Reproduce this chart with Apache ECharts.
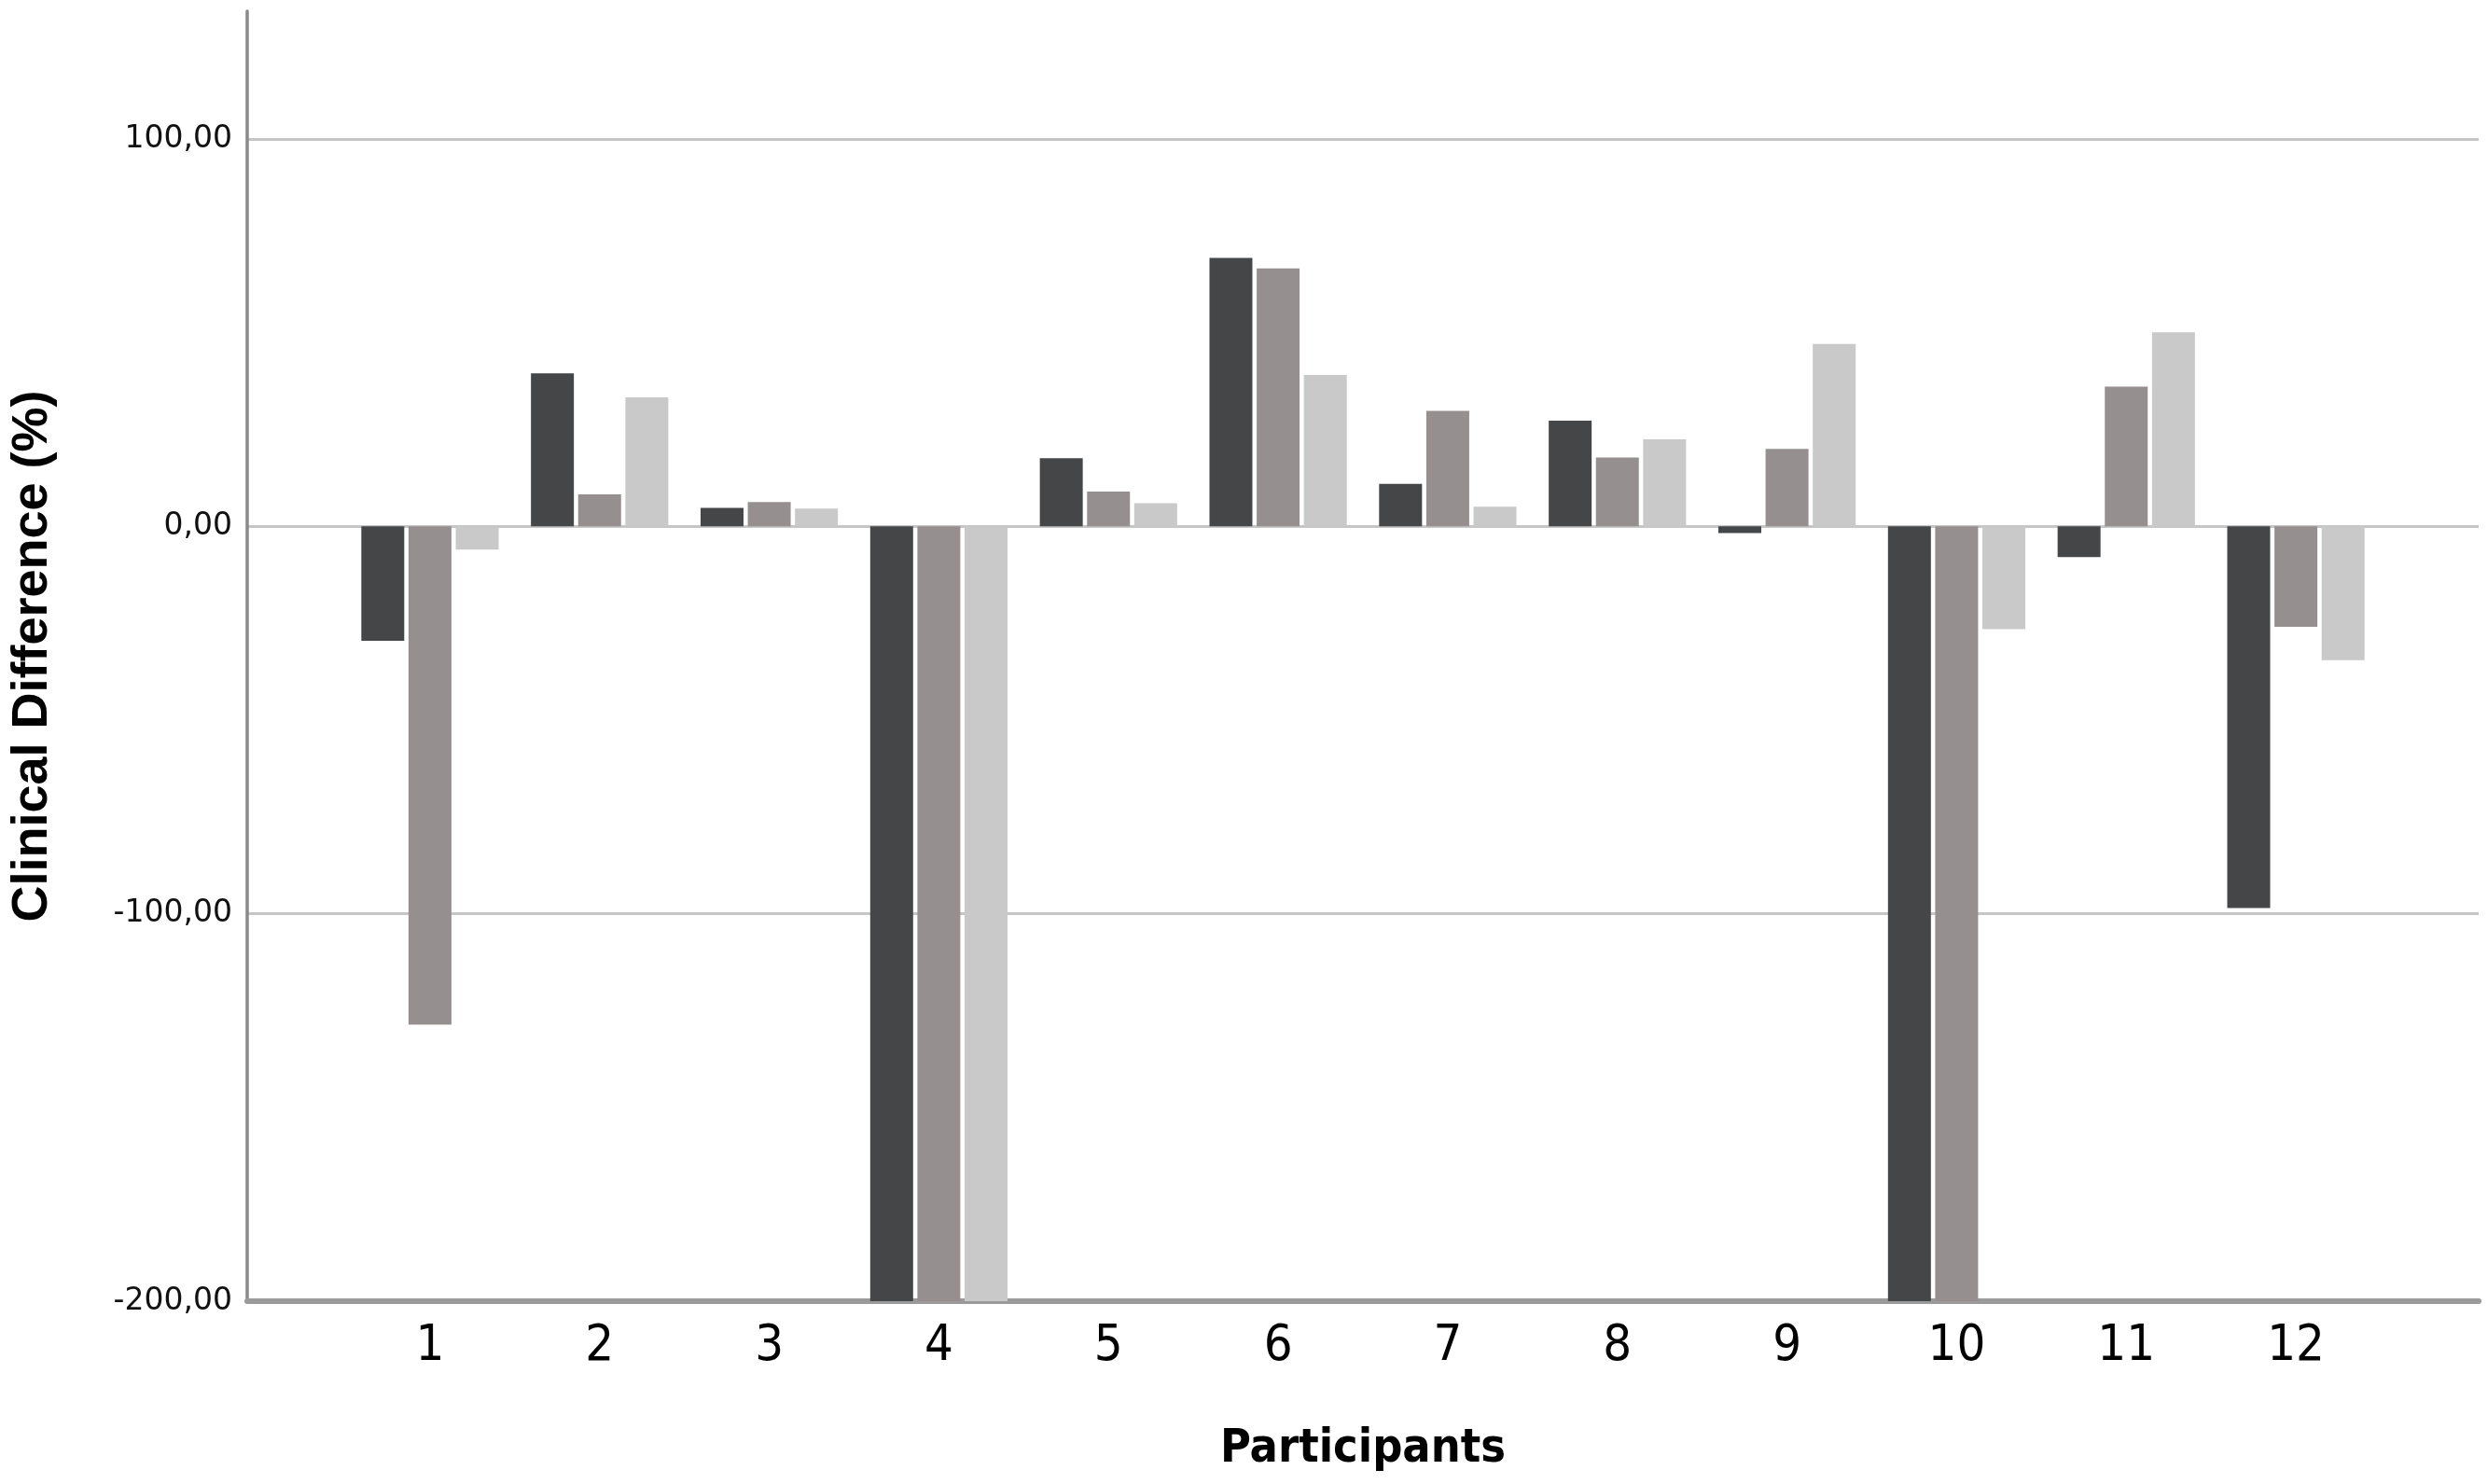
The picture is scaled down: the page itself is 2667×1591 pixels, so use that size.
<!DOCTYPE html>
<html>
<head>
<meta charset="utf-8">
<title>Clinical Difference per participant</title>
<script src="https://cdn.jsdelivr.net/npm/echarts@6.0.0/dist/echarts.min.js"></script>
<style>
  html, body { margin: 0; padding: 0; background: #fff; }
  #chart { width: 2667px; height: 1591px; }
</style>
</head>
<body>
<div id="chart"></div>
<script>
// values (bars at -200 run off the bottom of the axis)
const participants = ['1', '2', '3', '4', '5', '6', '7', '8', '9', '10', '11', '12']
const measureDark = [-29.5, 39.5, 4.8, -200, 17.6, 69.3, 11.0, 27.3, -1.7, -200, -7.9, -98.5]
const measureMid = [-128.6, 8.3, 6.3, -200, 9.0, 66.6, 29.8, 17.8, 20.0, -200, 36.1, -25.9]
const measureLight = [-6.0, 33.3, 4.6, -200, 6.0, 39.1, 5.1, 22.5, 47.1, -26.5, 50.1, -34.5]
const yTicks = [-200, -100, 0, 100]

const yMin = yTicks[0]
const yMax = 133
const yStep = yTicks[1] - yTicks[0]

const chart = echarts.init(document.getElementById('chart'))

const barStyle = (color) => ({
  type: 'bar',
  xAxisIndex: 1,
  yAxisIndex: 1,
  barWidth: 46,
  barGap: '10%',
  itemStyle: { color: color },
  z: 3
})

const option = {
  animation: false,
  backgroundColor: '#fff',
  grid: [
    // frame: axis lines + grid lines, full width
    { left: 263, right: 10, top: 12, bottom: 196, containLabel: false },
    // bars: inset like the original, with padding at both ends
    { left: 370, right: 115, top: 12, bottom: 196, containLabel: false }
  ],
  xAxis: [
    {
      gridIndex: 0,
      type: 'value',
      min: 0,
      max: 1,
      name: 'Participants',
      nameLocation: 'middle',
      nameGap: 134,
      nameTextStyle: {
        color: '#000',
        fontSize: 50,
        fontWeight: 'bold',
        fontFamily: `'Liberation Sans Narrow', 'DejaVu Sans Condensed', sans-serif`
      },
      axisLine: { show: true, onZero: false, lineStyle: { color: '#9a9a9a', width: 6 } },
      axisTick: { show: false },
      axisLabel: { show: false },
      splitLine: { show: false }
    },
    {
      gridIndex: 1,
      type: 'category',
      data: participants,
      boundaryGap: true,
      axisLine: { show: false },
      axisTick: { show: false },
      axisLabel: {
        margin: 22,
        color: '#000',
        fontSize: 54,
        fontFamily: `'Liberation Sans Narrow', 'DejaVu Sans Condensed', sans-serif`
      },
      splitLine: { show: false }
    }
  ],
  yAxis: [
    {
      gridIndex: 0,
      type: 'value',
      min: yMin,
      max: yMax,
      interval: yStep,
      name: 'Clinical Difference (%)',
      nameLocation: 'middle',
      nameGap: 203,
      nameTextStyle: {
        color: '#000',
        fontSize: 54,
        fontWeight: 'bold',
        fontFamily: `'Liberation Sans', Arial, sans-serif`
      },
      axisLine: { show: true, lineStyle: { color: '#8a8a8a', width: 3.5 } },
      axisTick: { show: false },
      axisLabel: {
        margin: 16,
        color: '#111',
        fontSize: 33,
        fontFamily: `'DejaVu Sans', sans-serif`,
        showMaxLabel: false,
        formatter: (v) => v.toFixed(2).replace('.', ',')
      },
      splitLine: {
        show: true,
        showMaxLine: false,
        lineStyle: { color: '#c6c6c6', width: 3 }
      }
    },
    {
      gridIndex: 1,
      type: 'value',
      min: yMin,
      max: yMax,
      interval: yStep,
      show: false,
      splitLine: { show: false }
    }
  ],
  series: [
    Object.assign({ name: 'Measure 1', data: measureDark }, barStyle('#454648')),
    Object.assign({ name: 'Measure 2', data: measureMid }, barStyle('#968f8f')),
    Object.assign({ name: 'Measure 3', data: measureLight }, barStyle('#c9c9c9'))
  ]
}

chart.setOption(option)
</script>
</body>
</html>
